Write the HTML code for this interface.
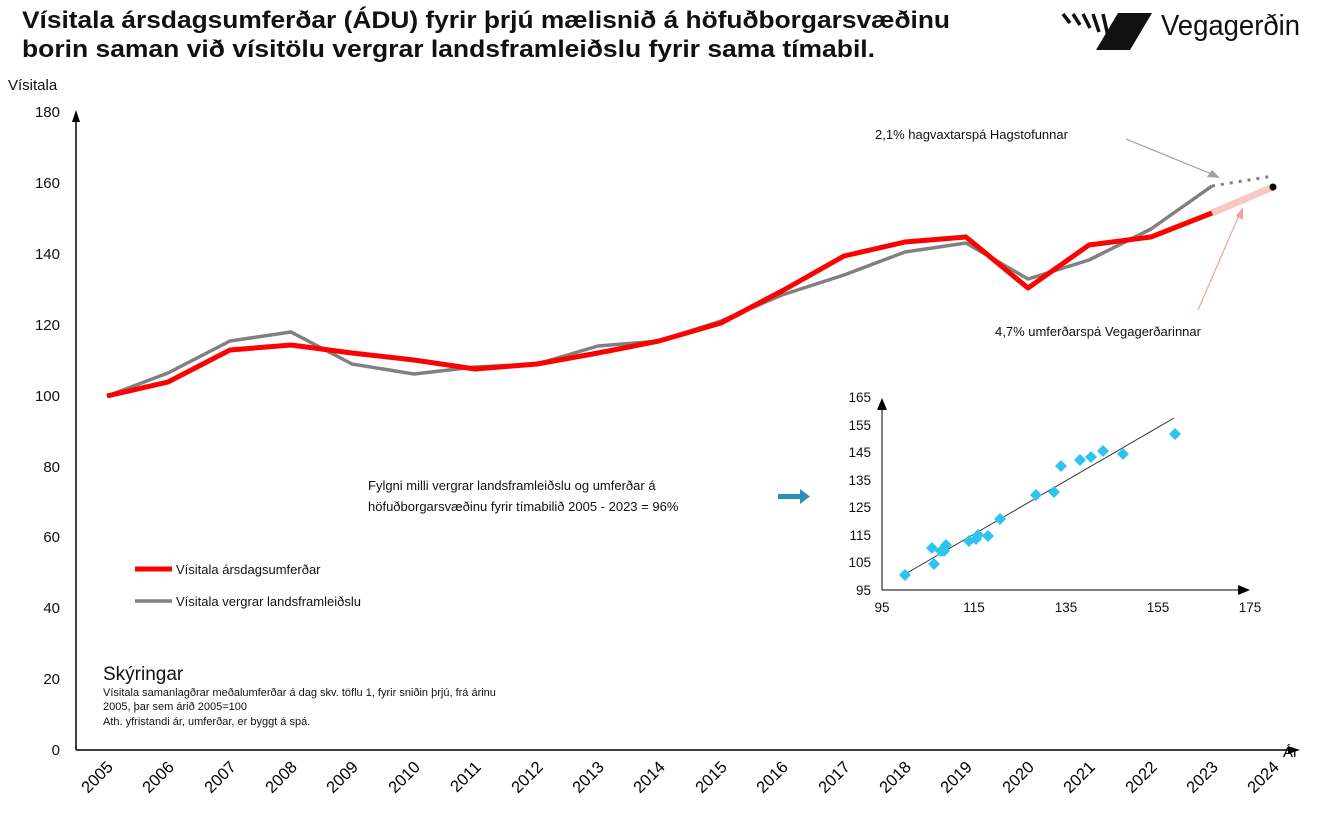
<!DOCTYPE html>
<html><head><meta charset="utf-8"><style>
body{margin:0;background:#fff;width:1331px;height:819px;overflow:hidden;font-family:"Liberation Sans",sans-serif}
</style></head><body>
<svg width="1331" height="819" xmlns="http://www.w3.org/2000/svg" font-family="Liberation Sans, sans-serif">
<text x="22" y="28" font-size="24" font-weight="bold" fill="#111" textLength="928" lengthAdjust="spacingAndGlyphs">Vísitala ársdagsumferðar (ÁDU) fyrir þrjú mælisnið á höfuðborgarsvæðinu</text>
<text x="22" y="57" font-size="24" font-weight="bold" fill="#111" textLength="853" lengthAdjust="spacingAndGlyphs">borin saman við vísitölu vergrar landsframleiðslu fyrir sama tímabil.</text>
<!-- logo -->
<polygon points="1118,13 1152,13 1130,50 1096,50" fill="#111"/>
<g stroke="#111" stroke-width="3.5" fill="none">
<path d="M1063,14 l7,9"/><path d="M1073,14 l7,11"/><path d="M1083,14 l7,14"/><path d="M1093,14 l6,18"/><path d="M1103,14 l5,22"/>
</g>
<text x="1161" y="35" font-size="29" fill="#111" textLength="139" lengthAdjust="spacingAndGlyphs">Vegagerðin</text>
<text x="8" y="90" font-size="15" fill="#111">Vísitala</text>
<!-- axes -->
<line x1="76" y1="750" x2="76" y2="118" stroke="#000" stroke-width="1.5"/>
<polygon points="72,122 76,110 80,122" fill="#000"/>
<line x1="76" y1="750" x2="1290" y2="750" stroke="#000" stroke-width="1.5"/>
<polygon points="1288,746 1300,750 1288,754" fill="#000"/>
<text x="1283" y="757" font-size="15">Ár</text>
<g font-size="15" fill="#111" text-anchor="end">
<text x="60" y="117">180</text><text x="60" y="188">160</text><text x="60" y="259">140</text><text x="60" y="330">120</text><text x="60" y="401">100</text><text x="60" y="472">80</text><text x="60" y="542">60</text><text x="60" y="613">40</text><text x="60" y="684">20</text><text x="60" y="755">0</text>
</g>
<g font-size="16.5" fill="#000" text-anchor="end">
<text transform="translate(114,768) rotate(-45)">2005</text>
<text transform="translate(175,768) rotate(-45)">2006</text>
<text transform="translate(237,768) rotate(-45)">2007</text>
<text transform="translate(298,768) rotate(-45)">2008</text>
<text transform="translate(359,768) rotate(-45)">2009</text>
<text transform="translate(421,768) rotate(-45)">2010</text>
<text transform="translate(482,768) rotate(-45)">2011</text>
<text transform="translate(544,768) rotate(-45)">2012</text>
<text transform="translate(605,768) rotate(-45)">2013</text>
<text transform="translate(666,768) rotate(-45)">2014</text>
<text transform="translate(728,768) rotate(-45)">2015</text>
<text transform="translate(789,768) rotate(-45)">2016</text>
<text transform="translate(851,768) rotate(-45)">2017</text>
<text transform="translate(912,768) rotate(-45)">2018</text>
<text transform="translate(973,768) rotate(-45)">2019</text>
<text transform="translate(1035,768) rotate(-45)">2020</text>
<text transform="translate(1096,768) rotate(-45)">2021</text>
<text transform="translate(1158,768) rotate(-45)">2022</text>
<text transform="translate(1219,768) rotate(-45)">2023</text>
<text transform="translate(1280,768) rotate(-45)">2024</text>
</g>
<!-- forecasts -->
<line x1="1212" y1="213" x2="1273" y2="187" stroke="#f8c8c6" stroke-width="7"/>
<line x1="1212" y1="186" x2="1273" y2="176" stroke="#808080" stroke-width="3" stroke-dasharray="3,6"/>
<circle cx="1273" cy="187" r="3.5" fill="#000"/>
<!-- gray series -->
<polyline fill="none" stroke="#808080" stroke-width="3.5" stroke-linejoin="round" points="107,396 168,373 230,341 291,332 352,364 414,374 475,367 537,364 598,346 659,341 721,321 782,295 844,275 905,252 966,243 1028,279 1089,260 1151,229 1212,186"/>
<!-- red series -->
<polyline fill="none" stroke="#ff0000" stroke-width="5" stroke-linejoin="round" points="107,396 168,382 230,350 291,345 352,353 414,360 475,369 537,364 598,353 659,341 721,323 782,291 844,256 905,242 966,237 1028,288 1089,245 1151,237 1212,213"/>
<!-- annotations -->
<text x="875" y="139" font-size="13" fill="#111">2,1% hagvaxtarspá Hagstofunnar</text>
<line x1="1126" y1="139" x2="1214" y2="175" stroke="#a0a0a0" stroke-width="1.2"/>
<polygon points="1220,178 1207,177 1212,170" fill="#a0a0a0"/>
<text x="995" y="336" font-size="13" fill="#111">4,7% umferðarspá Vegagerðarinnar</text>
<line x1="1198" y1="310" x2="1240" y2="213" stroke="#f5a0a0" stroke-width="1.2"/>
<polygon points="1243,207 1243,220 1236,216" fill="#f5a0a0"/>
<text x="368" y="490" font-size="13" fill="#111">Fylgni milli vergrar landsframleiðslu og umferðar á</text>
<text x="368" y="511" font-size="13" fill="#111">höfuðborgarsvæðinu fyrir tímabilið 2005 - 2023 = 96%</text>
<rect x="778" y="494" width="24" height="5" fill="#2e8fb5"/>
<polygon points="800,489 810,496.5 800,504" fill="#2e8fb5"/>
<!-- legend -->
<line x1="135" y1="569" x2="172" y2="569" stroke="#ff0000" stroke-width="5"/>
<text x="176" y="574" font-size="13" fill="#111">Vísitala ársdagsumferðar</text>
<line x1="135" y1="601" x2="172" y2="601" stroke="#808080" stroke-width="3.5"/>
<text x="176" y="606" font-size="13" fill="#111">Vísitala vergrar landsframleiðslu</text>
<text x="103" y="680" font-size="19" fill="#111">Skýringar</text>
<text x="103" y="696" font-size="11" fill="#111">Vísitala samanlagðrar meðalumferðar á dag  skv. töflu 1, fyrir sniðin  þrjú, frá árinu</text>
<text x="103" y="710" font-size="11" fill="#111">2005, þar sem árið 2005=100</text>
<text x="103" y="725" font-size="11" fill="#111">Ath. yfristandi ár, umferðar, er byggt á spá.</text>
<!-- inset -->
<line x1="882" y1="590" x2="1240" y2="590" stroke="#000" stroke-width="1"/>
<polygon points="1238,585 1250,590 1238,595" fill="#000"/>
<line x1="882" y1="590" x2="882" y2="406" stroke="#000" stroke-width="1"/>
<polygon points="877,410 882,398 887,410" fill="#000"/>
<g font-size="13.5" fill="#111" text-anchor="end">
<text x="871" y="402">165</text><text x="871" y="430">155</text><text x="871" y="457">145</text><text x="871" y="485">135</text><text x="871" y="512">125</text><text x="871" y="540">115</text><text x="871" y="567">105</text><text x="871" y="595">95</text>
</g>
<g font-size="13.5" fill="#111" text-anchor="middle">
<text x="882" y="612">95</text><text x="974" y="612">115</text><text x="1066" y="612">135</text><text x="1158" y="612">155</text><text x="1250" y="612">175</text>
</g>
<line x1="907" y1="573" x2="1174" y2="418" stroke="#333" stroke-width="1"/>
<g fill="#2ec4f0">
<path d="M905,569 l6,6 -6,6 -6,-6z"/>
<path d="M932,542 l6,6 -6,6 -6,-6z"/>
<path d="M934,558 l6,6 -6,6 -6,-6z"/>
<path d="M941,545 l6,6 -6,6 -6,-6z"/>
<path d="M946,539 l6,6 -6,6 -6,-6z"/>
<path d="M944,545 l6,6 -6,6 -6,-6z"/>
<path d="M969,535 l6,6 -6,6 -6,-6z"/>
<path d="M976,533 l6,6 -6,6 -6,-6z"/>
<path d="M978,529 l6,6 -6,6 -6,-6z"/>
<path d="M988,530 l6,6 -6,6 -6,-6z"/>
<path d="M1000,513 l6,6 -6,6 -6,-6z"/>
<path d="M1036,489 l6,6 -6,6 -6,-6z"/>
<path d="M1054,486 l6,6 -6,6 -6,-6z"/>
<path d="M1061,460 l6,6 -6,6 -6,-6z"/>
<path d="M1080,454 l6,6 -6,6 -6,-6z"/>
<path d="M1091,451 l6,6 -6,6 -6,-6z"/>
<path d="M1103,445 l6,6 -6,6 -6,-6z"/>
<path d="M1123,448 l6,6 -6,6 -6,-6z"/>
<path d="M1175,428 l6,6 -6,6 -6,-6z"/>
</g>
</svg>
</body></html>
